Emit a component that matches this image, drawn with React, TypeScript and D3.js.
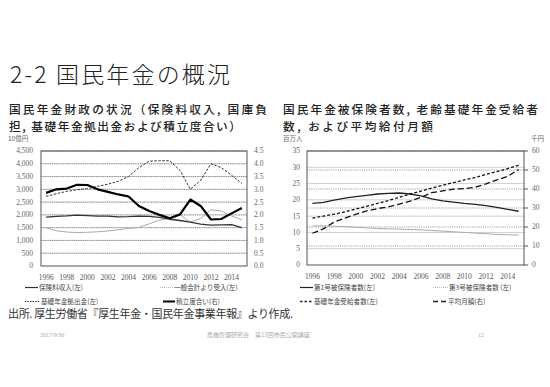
import React from "react";
import { scaleBand, scaleLinear, line, range } from "d3";

const years = range(1996, 2016);
const yearTicks = [1996, 1998, 2000, 2002, 2004, 2006, 2008, 2010, 2012, 2014];

// left chart (10億円 / ratio)
const premiums = [1910, 1940, 1960, 1990, 1970, 1950, 1950, 1920, 1930, 1950, 1940, 1900, 1830, 1780, 1720, 1640, 1600, 1610, 1620, 1500];
const generalAccount = [1500, 1380, 1330, 1310, 1320, 1340, 1370, 1420, 1470, 1510, 1650, 1800, 1850, 2000, 1720, 1860, 2200, 2150, 1960, 1800];
const basicContribution = [2720, 2830, 2920, 2980, 3030, 3120, 3200, 3320, 3500, 3850, 4100, 4120, 4120, 3740, 3000, 3350, 4000, 3850, 3550, 3230];
const reserveRatio = [2.86, 3.0, 3.03, 3.18, 3.17, 3.0, 2.9, 2.8, 2.72, 2.35, 2.15, 2.0, 1.87, 2.02, 2.6, 2.35, 1.82, 1.84, 2.06, 2.27];
const leftTicksL = [0, 500, 1000, 1500, 2000, 2500, 3000, 3500, 4000, 4500];
const leftTicksR = [0, 0.5, 1, 1.5, 2, 2.5, 3, 3.5, 4, 4.5];

// right chart (百万人 / 千円)
const insured1 = [18.9, 19.2, 19.9, 20.5, 21.0, 21.4, 21.8, 22.0, 22.1, 21.8, 21.2, 20.3, 19.7, 19.3, 18.9, 18.6, 18.2, 17.7, 17.1, 16.5];
const insured3 = [12.0, 12.0, 11.9, 11.8, 11.6, 11.4, 11.2, 11.1, 11.0, 10.9, 10.8, 10.6, 10.4, 10.2, 10.0, 9.8, 9.6, 9.4, 9.3, 9.2];
const recipients = [14.4, 15.0, 15.6, 16.3, 17.2, 18.0, 18.9, 19.8, 20.8, 21.8, 22.7, 23.6, 24.5, 25.3, 26.1, 26.9, 27.8, 28.7, 29.6, 30.6];
const avgMonthly = [16.7, 19.0, 22.6, 24.7, 26.7, 28.5, 29.7, 30.6, 32.0, 33.6, 35.6, 38.1, 39.0, 39.9, 40.2, 40.9, 42.7, 44.8, 46.6, 50.3];
const rightTicksL = [0, 5, 10, 15, 20, 25, 30, 35];
const rightTicksR = [0, 10, 20, 30, 40, 50, 60];

const serif = "'Liberation Serif', 'DejaVu Serif', 'Noto Sans CJK JP', serif";
const jp = "'Noto Sans CJK JP', sans-serif";

type S = { data: number[]; axis: "L" | "R"; stroke: string; width: number; dash?: string };

function Panel(props: {
  x0: number; x1: number; yTop: number; yBot: number;
  domL: number; domR: number; ticksL: number[]; ticksR: number[];
  fmtL: (v: number) => string; fmtR: (v: number) => string;
  series: S[]; rightTickMarks: boolean; lblL: number; lblR: number; xLabelY: number;
}) {
  const { x0, x1, yTop, yBot } = props;
  const x = scaleBand<number>().domain(years).range([x0, x1]);
  const xc = (yr: number) => (x(yr) as number) + x.bandwidth() / 2;
  const yL = scaleLinear().domain([0, props.domL]).range([yBot, yTop]);
  const yR = scaleLinear().domain([0, props.domR]).range([yBot, yTop]);
  return (
    <g>
      {props.ticksL.slice(1).map((t) => (
        <line key={"gl" + t} x1={x0} x2={x1} y1={yL(t)} y2={yL(t)} stroke="#cfcfcf" strokeWidth={1} />
      ))}
      {props.ticksR.slice(1).map((t) => (
        <line key={"gr" + t} x1={x0} x2={x1} y1={yR(t)} y2={yR(t)} stroke="#777" strokeWidth={0.8} strokeDasharray="1,1.2" />
      ))}
      <rect x={x0} y={yTop} width={x1 - x0} height={yBot - yTop} fill="none" stroke="#555" strokeWidth={1} />
      {props.ticksL.map((t) => (
        <text key={"tl" + t} x={props.lblL} y={yL(t)} dy="0.33em" textAnchor="end" fontSize={7.5} fill="#666" fontFamily={serif}>
          {props.fmtL(t)}
        </text>
      ))}
      {props.ticksR.map((t) => (
        <g key={"tr" + t}>
          {props.rightTickMarks && <line x1={x1} x2={x1 + 4} y1={yR(t)} y2={yR(t)} stroke="#555" />}
          <text x={props.lblR} y={yR(t)} dy="0.33em" textAnchor="start" fontSize={7.5} fill="#666" fontFamily={serif}>
            {props.fmtR(t)}
          </text>
        </g>
      ))}
      {yearTicks.map((yr) => (
        <text key={"x" + yr} x={xc(yr)} y={props.xLabelY} textAnchor="middle" fontSize={7.5} fill="#555" fontFamily={serif}>
          {yr}
        </text>
      ))}
      {props.series.map((s, i) => {
        const ys = s.axis === "L" ? yL : yR;
        const gen = line<number>().x((_, j) => xc(years[j])).y((d) => ys(d));
        return (
          <path key={"s" + i} d={gen(s.data) || ""} fill="none" stroke={s.stroke} strokeWidth={s.width}
            strokeDasharray={s.dash} strokeLinejoin="round" />
        );
      })}
    </g>
  );
}

function Legend(props: { x: number; y: number; label: string; stroke: string; width: number; dash?: string; len: number }) {
  return (
    <g>
      <line x1={props.x} x2={props.x + props.len} y1={props.y} y2={props.y} stroke={props.stroke}
        strokeWidth={props.width} strokeDasharray={props.dash} />
      <text x={props.x + props.len + 1} y={props.y} dy="0.35em" fontSize={6.6} fill="#444" fontFamily={jp}>
        {props.label}
      </text>
    </g>
  );
}

export default function App() {
  const comma = (v: number) => (v === 0 ? "0" : v.toLocaleString("en-US"));
  return (
    <svg width={550} height={387} style={{ position: "absolute", left: 0, top: 0, background: "#fff" }}>
      <text x={10} y={83} fontSize={23} fontFamily={jp} fontWeight={300} fill="#222" textLength={220}>2-2 国民年金の概況</text>

      <text x={9} y={114} fontSize={11.7} fontFamily={jp} fontWeight={500} fill="#222" textLength={258}>国民年金財政の状況（保険料収入, 国庫負</text>
      <text x={9} y={131} fontSize={11.7} fontFamily={jp} fontWeight={500} fill="#222" textLength={232}>担, 基礎年金拠出金および積立度合い）</text>
      <text x={283} y={114} fontSize={11.7} fontFamily={jp} fontWeight={500} fill="#222" textLength={255}>国民年金被保険者数, 老齢基礎年金受給者</text>
      <text x={283} y={131} fontSize={11.7} fontFamily={jp} fontWeight={500} fill="#222" textLength={150}>数, および平均給付月額</text>

      <text x={8} y={141} fontSize={6.5} fill="#666" fontFamily={jp}>10億円</text>
      <text x={283} y={141} fontSize={6.5} fill="#666" fontFamily={jp}>百万人</text>
      <text x={531} y={141} fontSize={6.5} fill="#666" fontFamily={jp}>千円</text>

      <Panel x0={41} x1={247} yTop={151} yBot={266} domL={4500} domR={4.5}
        ticksL={leftTicksL} ticksR={leftTicksR} fmtL={comma} fmtR={(v) => v.toFixed(1)}
        rightTickMarks={false} lblL={33} lblR={254} xLabelY={280}
        series={[
          { data: generalAccount, axis: "L", stroke: "#aaa", width: 1 },
          { data: premiums, axis: "L", stroke: "#333", width: 1.3 },
          { data: basicContribution, axis: "L", stroke: "#333", width: 1, dash: "2.5,1.5" },
          { data: reserveRatio, axis: "R", stroke: "#000", width: 2.2 },
        ]} />

      <Panel x0={307} x1={524} yTop={151} yBot={265} domL={35} domR={60}
        ticksL={rightTicksL} ticksR={rightTicksR} fmtL={(v) => String(v)} fmtR={(v) => String(v)}
        rightTickMarks={true} lblL={300} lblR={532} xLabelY={279}
        series={[
          { data: insured3, axis: "L", stroke: "#aaa", width: 1 },
          { data: insured1, axis: "L", stroke: "#222", width: 1.3 },
          { data: recipients, axis: "L", stroke: "#111", width: 1.3, dash: "3,2" },
          { data: avgMonthly, axis: "R", stroke: "#111", width: 1.3, dash: "6,3" },
        ]} />

      <Legend x={25} y={287.5} len={13} label="保険料収入(左)" stroke="#333" width={1.2} />
      <Legend x={160} y={287.5} len={13} label="一般会計より受入(左)" stroke="#aaa" width={0.8} dash="1,1" />
      <Legend x={25} y={301.5} len={15} label="基礎年金拠出金(左)" stroke="#333" width={1.2} dash="1.5,1" />
      <Legend x={163} y={301.5} len={12} label="積立度合い(右)" stroke="#000" width={2} />

      <Legend x={300} y={287.5} len={13} label="第1号被保険者数(左)" stroke="#222" width={1.2} />
      <Legend x={433} y={287.5} len={15} label="第3号被保険者数 (左)" stroke="#aaa" width={0.8} dash="1,1" />
      <Legend x={300} y={301.5} len={13} label="基礎年金受給者数(左)" stroke="#222" width={1.4} dash="2.5,2" />
      <Legend x={433} y={301.5} len={14} label="平均月額(右)" stroke="#222" width={1.4} dash="5,3" />

      <text x={8} y={318} fontSize={11} fontFamily={jp} fill="#333" textLength={285}>出所. 厚生労働省『厚生年金・国民年金事業年報』より作成.</text>

      <text x={40} y={337} fontSize={6} fontFamily={serif} fill="#aaa">2017/9/30</text>
      <text x={207} y={337} fontSize={6} fontFamily={jp} fill="#aaa">危機管理研究会　第13回市民公開講座</text>
      <text x={478} y={337} fontSize={6} fontFamily={serif} fill="#aaa">12</text>
    </svg>
  );
}
